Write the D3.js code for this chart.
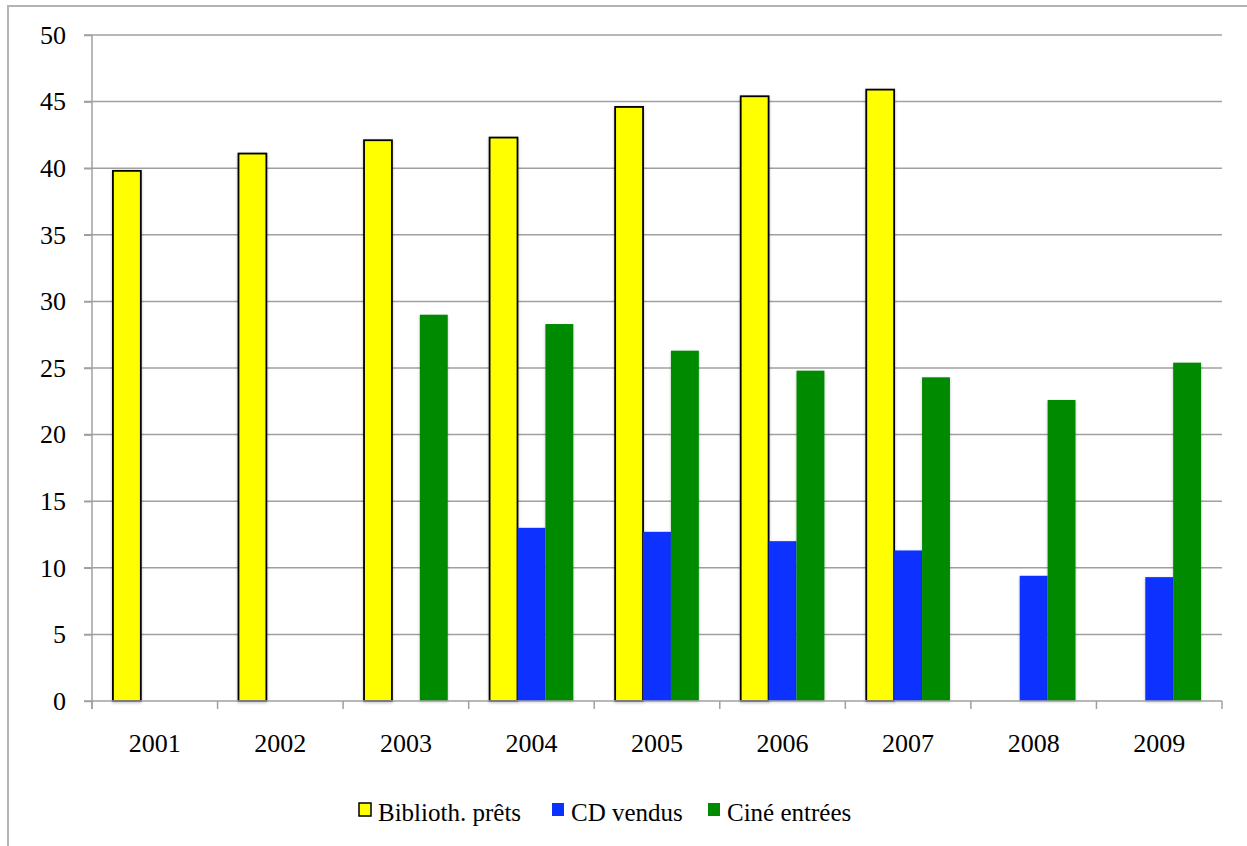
<!DOCTYPE html>
<html>
<head>
<meta charset="utf-8">
<script src="https://cdn.jsdelivr.net/npm/d3@7"></script>
<style>
  body { margin: 0; background: #fff; }
  svg { display: block; }
</style>
</head>
<body>
<div id="chart"></div>
<script>
const years = ['2001', '2002', '2003', '2004', '2005', '2006', '2007', '2008', '2009'];
const seriesNames = ['Biblioth. prêts', 'CD vendus', 'Ciné entrées'];
const bibliothPrets = [39.8, 41.1, 42.1, 42.3, 44.6, 45.4, 45.9, null, null];
const cdVendus = [null, null, null, 13.0, 12.7, 12.0, 11.3, 9.4, 9.3];
const cineEntrees = [null, null, 29.0, 28.3, 26.3, 24.8, 24.3, 22.6, 25.4];
const yTicks = [0, 5, 10, 15, 20, 25, 30, 35, 40, 45, 50];

const colors = ['#ffff00', '#0a32ff', '#008a00'];
const font = "'Liberation Serif', serif";

const width = 1247;
const height = 846;
const margins = {top: 35, right: 25, bottom: 145, left: 92};
const chartWidth = width - margins.left - margins.right;
const chartHeight = height - margins.top - margins.bottom;

const rows = years.map((year, i) => ({
  year,
  values: [bibliothPrets[i], cdVendus[i], cineEntrees[i]],
}));

const svgRoot = d3.select('#chart')
  .append('svg')
  .attr('width', width)
  .attr('height', height);

// outer frame
svgRoot.append('rect')
  .attr('x', 8).attr('y', 6)
  .attr('width', width + 20).attr('height', height + 20)
  .attr('fill', 'none')
  .attr('stroke', '#b3b3b3')
  .attr('stroke-width', 2);

const defs = svgRoot.append('defs');
const shadow = defs.append('filter').attr('id', 'shadow')
  .attr('x', '-20%').attr('y', '-5%').attr('width', '140%').attr('height', '110%');
shadow.append('feGaussianBlur').attr('in', 'SourceAlpha').attr('stdDeviation', 1.5);
shadow.append('feOffset').attr('dx', 0).attr('dy', 1).attr('result', 'blur');
shadow.append('feComponentTransfer').append('feFuncA').attr('type', 'linear').attr('slope', 0.25);
const merge = shadow.append('feMerge');
merge.append('feMergeNode');
merge.append('feMergeNode').attr('in', 'SourceGraphic');

const svg = svgRoot.append('g')
  .attr('transform', 'translate(' + margins.left + ',' + margins.top + ')');

const x0 = d3.scaleBand()
  .domain(years)
  .range([0, chartWidth])
  .paddingInner(1 / 3)
  .paddingOuter(1 / 6);

const x1 = d3.scaleBand()
  .domain(d3.range(seriesNames.length))
  .range([0, x0.bandwidth()]);

const y = d3.scaleLinear()
  .domain([0, 50])
  .range([chartHeight, 0]);

const gray = '#a0a0a0';

// gridlines
svg.append('g')
  .selectAll('line')
  .data(yTicks.filter((t) => t > 0))
  .join('line')
  .attr('x1', -8)
  .attr('x2', chartWidth)
  .attr('y1', (d) => y(d))
  .attr('y2', (d) => y(d))
  .attr('stroke', gray)
  .attr('stroke-width', 1.5);

// y axis
const yAxis = svg.append('g')
  .call(d3.axisLeft(y).tickValues(yTicks).tickSize(8).tickPadding(18));
yAxis.select('.domain').remove();
yAxis.append('line')
  .attr('x1', 0).attr('x2', 0)
  .attr('y1', 0).attr('y2', chartHeight + 8)
  .attr('stroke', gray).attr('stroke-width', 1.5);
yAxis.selectAll('.tick line').attr('stroke', gray).attr('stroke-width', 1.5);
yAxis.selectAll('.tick text')
  .attr('font-family', font)
  .attr('font-size', 26)
  .attr('fill', '#000');

// bars
const groups = svg.append('g')
  .selectAll('g')
  .data(rows)
  .join('g')
  .attr('transform', (d) => 'translate(' + x0(d.year) + ',0)');

groups.selectAll('rect')
  .data((d) => d.values.map((v, i) => ({v, i})).filter((e) => e.v !== null))
  .join('rect')
  .attr('x', (d) => x1(d.i))
  .attr('width', x1.bandwidth())
  .attr('y', (d) => y(d.v))
  .attr('height', (d) => y(0) - y(d.v))
  .attr('fill', (d) => colors[d.i])
  .attr('stroke', (d) => (d.i === 0 ? '#000' : 'none'))
  .attr('stroke-width', 1.8)
  .attr('filter', 'url(#shadow)');

// x axis
const xAxisG = svg.append('g')
  .attr('transform', 'translate(0,' + chartHeight + ')');
xAxisG.append('line')
  .attr('x1', -8).attr('x2', chartWidth)
  .attr('stroke', gray).attr('stroke-width', 1.5);
xAxisG.selectAll('.xtick')
  .data(years.concat(['end']))
  .join('line')
  .attr('class', 'xtick')
  .attr('x1', (d, i) => i * x0.step())
  .attr('x2', (d, i) => i * x0.step())
  .attr('y1', 0).attr('y2', 8)
  .attr('stroke', gray).attr('stroke-width', 1.5);
xAxisG.selectAll('text')
  .data(years)
  .join('text')
  .attr('x', (d) => x0(d) + x0.bandwidth() / 2)
  .attr('y', 51)
  .attr('text-anchor', 'middle')
  .attr('font-family', font)
  .attr('font-size', 26)
  .text((d) => d);

// legend
const legendX = [359, 552, 708];
const legend = svgRoot.append('g');
const items = legend.selectAll('g')
  .data(seriesNames)
  .join('g')
  .attr('transform', (d, i) => 'translate(' + legendX[i] + ',803)');
items.append('rect')
  .attr('width', 12).attr('height', 13)
  .attr('fill', (d, i) => colors[i])
  .attr('stroke', (d, i) => (i === 0 ? '#000' : 'none'))
  .attr('stroke-width', 1.5);
items.append('text')
  .attr('x', 19)
  .attr('y', 18)
  .attr('font-family', font)
  .attr('font-size', 25)
  .text((d) => d);
</script>
</body>
</html>
